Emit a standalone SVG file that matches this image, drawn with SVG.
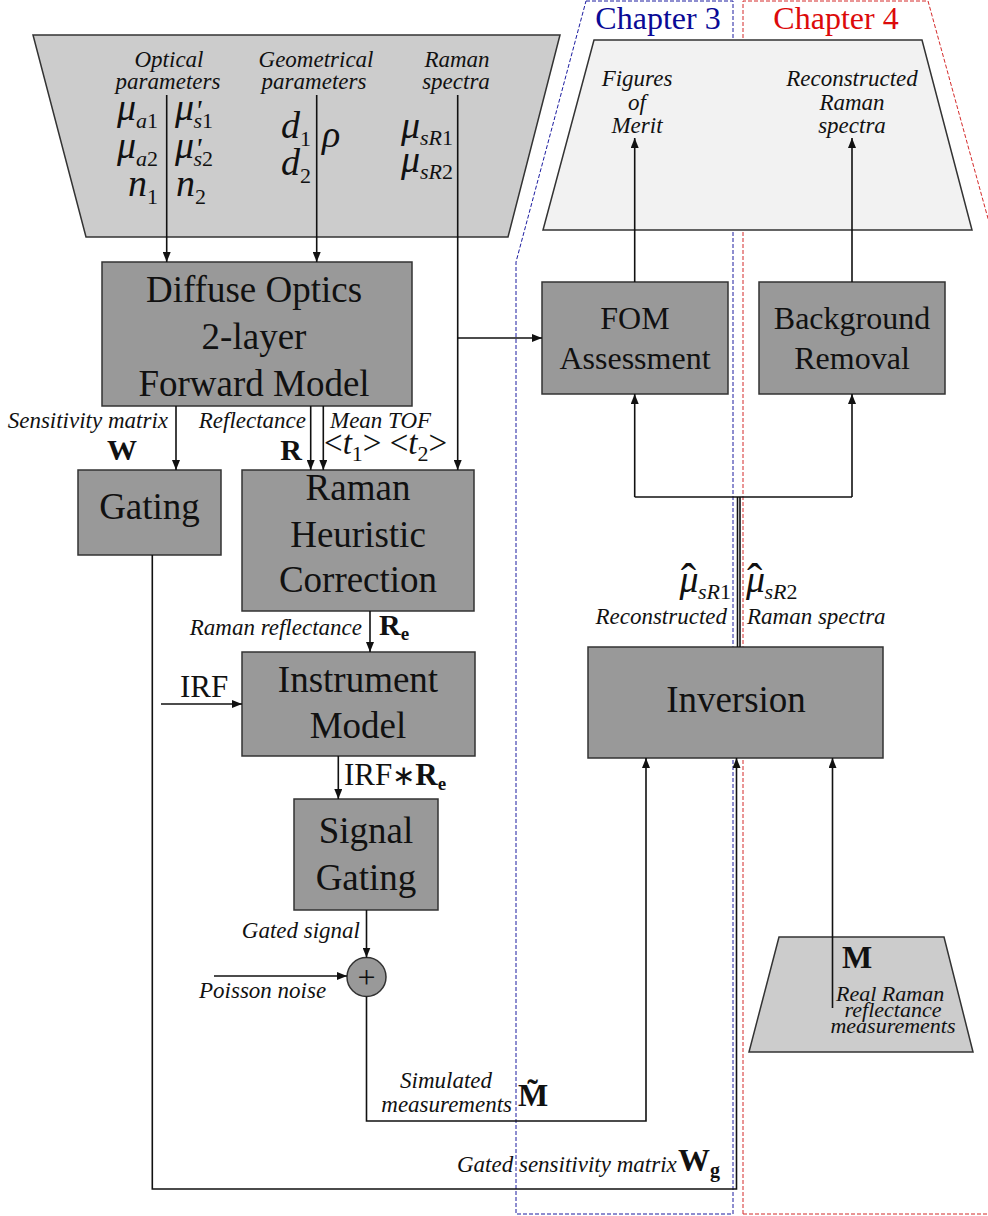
<svg xmlns="http://www.w3.org/2000/svg" width="988" height="1216" viewBox="0 0 988 1216">
<defs>
<marker id="ah" markerUnits="userSpaceOnUse" markerWidth="10" markerHeight="8" refX="10" refY="4" orient="auto">
<path d="M0,0 L10,4 L0,8 z" fill="#111"/>
</marker>
<style>
text{font-family:"Liberation Serif","Times New Roman",serif;fill:#111}
.bt{font-size:37px;text-anchor:middle}
.bt2{font-size:32px;text-anchor:middle}
.lab{font-size:23px;font-style:italic}
.m{font-size:38px;font-style:italic}
.sb{font-size:22px}
.up{font-style:normal}
.bold{font-weight:bold;font-size:30px}
.box{fill:#999999;stroke:#333;stroke-width:1.5}
.trap{fill:#cccccc;stroke:#333;stroke-width:1.5}
.trapl{fill:#f2f2f2;stroke:#333;stroke-width:1.5}
.c{fill:none;stroke:#111;stroke-width:1.6}
.ca{fill:none;stroke:#111;stroke-width:1.6;marker-end:url(#ah)}
</style>
</defs>
<rect width="988" height="1216" fill="#fff"/>

<g id="chapter3">
<polyline points="586,1 733,1 733,1214 516,1214 516,262 586,1" fill="none" stroke="#1c1ca0" stroke-width="1" stroke-dasharray="4 2"/>
<text x="658" y="29" style="font-size:32px;fill:#0a0a96" text-anchor="middle">Chapter 3</text>
</g>
<g id="chapter4">
<polyline points="743,1214 743,1 928,1 1000,262" fill="none" stroke="#d42a2a" stroke-width="1" stroke-dasharray="4 2"/>
<polyline points="743,1214 1000,1214" fill="none" stroke="#d42a2a" stroke-width="1" stroke-dasharray="4 2"/>
<text x="836" y="29" style="font-size:32px;fill:#dc0a0a" text-anchor="middle">Chapter 4</text>
</g>

<g id="inputs">
<polygon class="trap" points="33,35 560,35 508,237 86,237"/>
<text class="lab" x="169" y="67" text-anchor="middle">Optical</text>
<text class="lab" x="168" y="89" text-anchor="middle">parameters</text>
<text class="lab" x="316" y="67" text-anchor="middle">Geometrical</text>
<text class="lab" x="314" y="89" text-anchor="middle">parameters</text>
<text class="lab" x="457" y="67" text-anchor="middle">Raman</text>
<text class="lab" x="456" y="89" text-anchor="middle">spectra</text>
<text class="m" x="158" y="120" text-anchor="end">μ<tspan class="sb" dy="8">a</tspan><tspan class="sb up">1</tspan></text>
<text class="m" x="158" y="158" text-anchor="end">μ<tspan class="sb" dy="8">a</tspan><tspan class="sb up">2</tspan></text>
<text class="m" x="158" y="196" text-anchor="end">n<tspan class="sb up" dy="8">1</tspan></text>
<text class="m" x="175" y="120">μ<tspan font-size="30" dx="1">'</tspan><tspan class="sb" dx="-8" dy="8">s</tspan><tspan class="sb up">1</tspan></text>
<text class="m" x="175" y="158">μ<tspan font-size="30" dx="1">'</tspan><tspan class="sb" dx="-8" dy="8">s</tspan><tspan class="sb up">2</tspan></text>
<text class="m" x="176" y="196">n<tspan class="sb up" dy="8">2</tspan></text>
<text class="m" x="311" y="138" text-anchor="end">d<tspan class="sb up" dy="8">1</tspan></text>
<text class="m" x="311" y="175" text-anchor="end">d<tspan class="sb up" dy="8">2</tspan></text>
<text class="m" x="322" y="147">ρ</text>
<text class="m" x="453" y="138" text-anchor="end">μ<tspan class="sb" dy="7">sR</tspan><tspan class="sb up">1</tspan></text>
<text class="m" x="453" y="172" text-anchor="end">μ<tspan class="sb" dy="7">sR</tspan><tspan class="sb up">2</tspan></text>
</g>

<g id="outputs">
<polygon class="trapl" points="594,40 922,40 972,230 543,230"/>
<text class="lab" x="637" y="86" text-anchor="middle">Figures</text>
<text class="lab" x="637" y="110" text-anchor="middle">of</text>
<text class="lab" x="637" y="133" text-anchor="middle">Merit</text>
<text class="lab" x="852" y="86" text-anchor="middle">Reconstructed</text>
<text class="lab" x="852" y="110" text-anchor="middle">Raman</text>
<text class="lab" x="852" y="133" text-anchor="middle">spectra</text>
</g>

<g id="diffuse">
<rect class="box" x="102" y="262" width="310" height="144"/>
<text class="bt" x="254" y="302">Diffuse Optics</text>
<text class="bt" x="254" y="349">2-layer</text>
<text class="bt" x="254" y="396">Forward Model</text>
</g>
<g id="gating">
<rect class="box" x="78" y="470" width="143" height="85"/>
<text class="bt" x="149.5" y="519">Gating</text>
</g>
<g id="raman">
<rect class="box" x="242" y="470" width="232" height="141"/>
<text class="bt" x="358" y="500">Raman</text>
<text class="bt" x="358" y="547">Heuristic</text>
<text class="bt" x="358" y="592">Correction</text>
</g>
<g id="instrument">
<rect class="box" x="242" y="652" width="233" height="104"/>
<text class="bt" x="358" y="692">Instrument</text>
<text class="bt" x="358" y="738">Model</text>
</g>
<g id="signal">
<rect class="box" x="294" y="799" width="144" height="111"/>
<text class="bt" x="366" y="843">Signal</text>
<text class="bt" x="366" y="890">Gating</text>
</g>
<g id="sum">
<circle cx="366.5" cy="977" r="19.5" fill="#999" stroke="#333" stroke-width="1.5"/>
<text x="366.5" y="988" style="font-size:32px" text-anchor="middle">+</text>
</g>
<g id="fom">
<rect class="box" x="542" y="282" width="186" height="112"/>
<text class="bt2" x="635" y="329">FOM</text>
<text class="bt2" x="635" y="369">Assessment</text>
</g>
<g id="background">
<rect class="box" x="759" y="282" width="186" height="112"/>
<text class="bt2" x="852" y="329">Background</text>
<text class="bt2" x="852" y="369">Removal</text>
</g>
<g id="inversion">
<rect class="box" x="588" y="647" width="295" height="111"/>
<text class="bt" x="736" y="712">Inversion</text>
</g>
<g id="real">
<polygon class="trap" points="779,937 944,937 973,1052 749,1052"/>
<text class="bold" x="842" y="968" style="font-size:32px">M</text>
<text class="lab" x="836" y="1001" style="font-size:22px">Real Raman</text>
<text class="lab" x="893" y="1017" text-anchor="middle" style="font-size:22px">reflectance</text>
<text class="lab" x="893" y="1033" text-anchor="middle" style="font-size:22px">measurements</text>
</g>

<g id="connectors">
<line class="ca" x1="166.7" y1="95" x2="166.7" y2="262"/>
<line class="ca" x1="316.7" y1="95" x2="316.7" y2="262"/>
<line class="ca" x1="457.7" y1="95" x2="457.7" y2="470"/>
<line class="ca" x1="457.7" y1="338" x2="542" y2="338"/>
<line class="ca" x1="176" y1="406" x2="176" y2="470"/>
<line class="ca" x1="310.7" y1="406" x2="310.7" y2="470"/>
<line class="ca" x1="323.3" y1="406" x2="323.3" y2="470"/>
<line class="ca" x1="370" y1="611" x2="370" y2="652"/>
<line class="ca" x1="161" y1="704" x2="242" y2="704"/>
<line class="ca" x1="338.3" y1="756" x2="338.3" y2="799"/>
<line class="ca" x1="366.5" y1="910" x2="366.5" y2="957.5"/>
<line class="ca" x1="214" y1="976" x2="347" y2="976"/>
<polyline class="ca" points="366.5,996.5 366.5,1121 646,1121 646,758"/>
<polyline class="ca" points="152.3,555 152.3,1189 736.5,1189 736.5,758"/>
<line class="ca" x1="832.5" y1="1008" x2="832.5" y2="758"/>
<line class="c" x1="737.5" y1="647" x2="737.5" y2="497"/>
<line class="c" x1="740" y1="647" x2="740" y2="497"/>
<line class="c" x1="634.7" y1="497" x2="852" y2="497"/>
<line class="ca" x1="634.7" y1="497" x2="634.7" y2="394"/>
<line class="ca" x1="852" y1="497" x2="852" y2="394"/>
<line class="ca" x1="634.7" y1="282" x2="634.7" y2="138"/>
<line class="ca" x1="852" y1="282" x2="852" y2="138"/>
</g>

<g id="labels">
<text class="lab" x="168" y="428" text-anchor="end">Sensitivity matrix</text>
<text class="bold" x="122" y="460" text-anchor="middle">W</text>
<text class="lab" x="306" y="428" text-anchor="end">Reflectance</text>
<text class="bold" x="302" y="460" text-anchor="end">R</text>
<text class="lab" x="330" y="428">Mean TOF</text>
<text x="324" y="454" style="font-size:33px">&lt;<tspan font-style="italic">t</tspan><tspan class="sb" dy="7">1</tspan><tspan dy="-7">&gt; &lt;</tspan><tspan font-style="italic">t</tspan><tspan class="sb" dy="7">2</tspan><tspan dy="-7">&gt;</tspan></text>
<text class="lab" x="362" y="635" text-anchor="end">Raman reflectance</text>
<text class="bold" x="379" y="635">R<tspan font-size="19" dy="5">e</tspan></text>
<text x="180" y="697" style="font-size:31px">IRF</text>
<text x="344" y="785" style="font-size:31px">IRF<tspan font-size="28">∗</tspan><tspan font-weight="bold">R</tspan><tspan font-weight="bold" font-size="19" dy="5">e</tspan></text>
<text class="lab" x="360" y="938" text-anchor="end">Gated signal</text>
<text class="lab" x="199" y="998">Poisson noise</text>
<text class="lab" x="446" y="1088" text-anchor="middle">Simulated</text>
<text class="lab" x="512" y="1112" text-anchor="end">measurements</text>
<text class="bold" x="518" y="1106" style="font-size:32px">M̃</text>
<text class="lab" x="457" y="1172">Gated sensitivity matrix</text>
<text class="bold" x="678" y="1171" style="font-size:32px">W<tspan font-size="20" dy="6">g</tspan></text>
<text class="m" x="731" y="592" text-anchor="end">μ<tspan class="up" font-size="46" dx="-18" dy="4">ˆ</tspan><tspan class="sb" dx="2" dy="3">sR</tspan><tspan class="sb up">1</tspan></text>
<text class="m" x="746" y="592">μ<tspan class="up" font-size="46" dx="-18" dy="4">ˆ</tspan><tspan class="sb" dx="2" dy="3">sR</tspan><tspan class="sb up">2</tspan></text>
<text class="lab" x="727" y="624" text-anchor="end">Reconstructed</text>
<text class="lab" x="747" y="624">Raman spectra</text>
</g>
</svg>
